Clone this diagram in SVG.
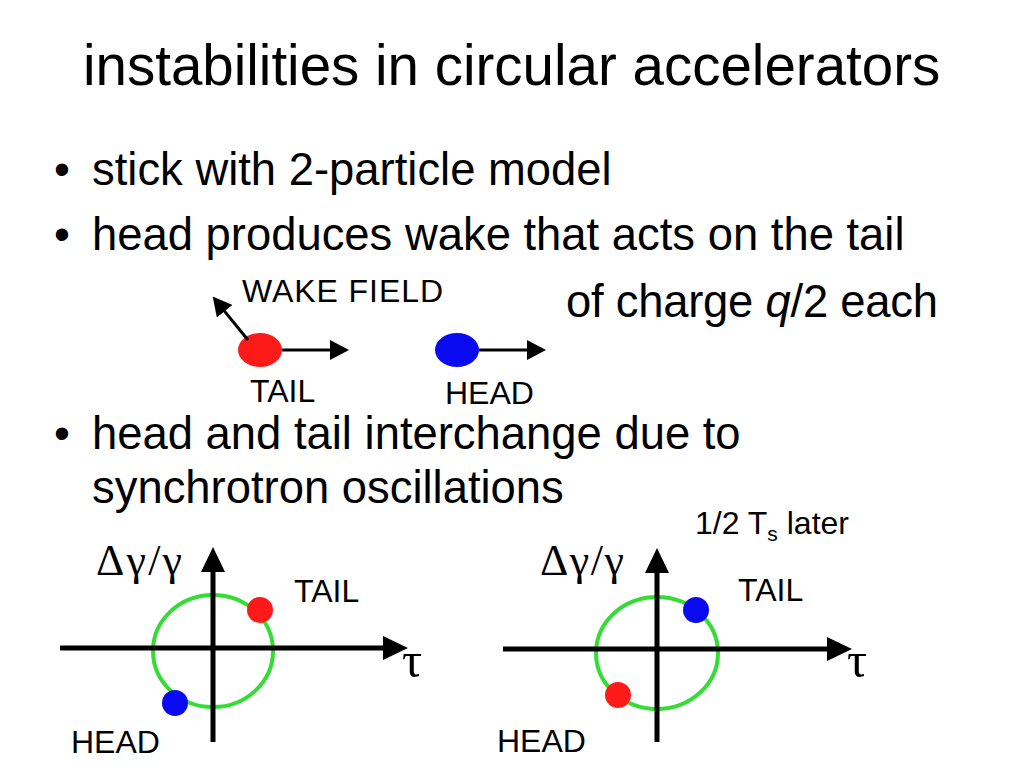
<svg xmlns="http://www.w3.org/2000/svg" width="1024" height="768" viewBox="0 0 1024 768">
  <style>
    .sans { font-family: "Liberation Sans", Arial, sans-serif; fill: #000; }
    .title { font-size: 56.5px; }
    .bullet { font-size: 45.4px; }
    .label { font-size: 32px; }
    .greek { font-family: "Liberation Serif", "Times New Roman", serif; font-size: 44px; fill: #000; }
    .tau { font-size: 50px; }
    .axis { stroke: #000; stroke-width: 5; fill: none; }
    .arrow { stroke: #000; stroke-width: 3; fill: none; }
    .orbit { stroke: #33dd33; stroke-width: 4; fill: none; }
    .red { fill: #ff1a1a; }
    .blue { fill: #0a0af0; }
  </style>
  <defs>
    <marker id="axisHead" viewBox="0 0 25 24" refX="10" refY="12" markerWidth="25" markerHeight="24" markerUnits="userSpaceOnUse" orient="auto">
      <path d="M0,0 L25,12 L0,24 z" fill="#000"/>
    </marker>
    <marker id="smallHead" viewBox="0 0 19 20" refX="8" refY="10" markerWidth="19" markerHeight="20" markerUnits="userSpaceOnUse" orient="auto">
      <path d="M0,0 L19,10 L0,20 z" fill="#000"/>
    </marker>
  </defs>
  <rect width="1024" height="768" fill="#fff"/>

  <g id="title">
    <text class="sans title" x="83" y="85">instabilities in circular accelerators</text>
  </g>

  <g id="bullets">
    <text class="sans bullet" x="54" y="185">•</text>
    <text class="sans bullet" x="92" y="185">stick with 2-particle model</text>
    <text class="sans bullet" x="54" y="250">•</text>
    <text class="sans bullet" x="92" y="250">head produces wake that acts on the tail</text>
    <text class="sans bullet" x="566" y="317" textLength="372">of charge <tspan font-style="italic">q</tspan>/2 each</text>
    <text class="sans bullet" x="54" y="449">•</text>
    <text class="sans bullet" x="92" y="449">head and tail interchange due to</text>
    <text class="sans bullet" x="92" y="503">synchrotron oscillations</text>
  </g>

  <g id="wake-field-label">
    <text class="sans label" x="242" y="302" textLength="201">WAKE FIELD</text>
  </g>
  <g id="tail-particle">
    <ellipse class="red" cx="260" cy="350" rx="22" ry="17"/>
    <text class="sans label" x="250" y="402">TAIL</text>
  </g>
  <g id="head-particle">
    <ellipse class="blue" cx="457" cy="350" rx="22" ry="17"/>
    <text class="sans label" x="445" y="404">HEAD</text>
  </g>

  <g id="phase-space-left">
    <ellipse class="orbit" cx="213" cy="651" rx="60" ry="56"/>
    <circle class="red" cx="260" cy="610" r="13"/>
    <circle class="blue" cx="175" cy="703" r="13"/>
    <text class="greek" x="96" y="575" textLength="86">Δγ/γ</text>
    <text class="greek tau" x="402" y="677">τ</text>
    <text class="sans label" x="294" y="602">TAIL</text>
    <text class="sans label" x="71" y="753">HEAD</text>
  </g>

  <g id="phase-space-right">
    <ellipse class="orbit" cx="657" cy="653" rx="61" ry="56"/>
    <circle class="blue" cx="696" cy="610" r="13"/>
    <circle class="red" cx="618" cy="695" r="13"/>
    <text class="greek" x="540" y="575" textLength="84">Δγ/γ</text>
    <text class="greek tau" x="847" y="677">τ</text>
    <text class="sans label" x="738" y="601">TAIL</text>
    <text class="sans label" x="497" y="752">HEAD</text>
    <text class="sans label" x="695" y="534">1/2 T<tspan font-size="21" dy="7">s</tspan><tspan dy="-7"> later</tspan></text>
  </g>

  <g id="connectors">
    <line class="arrow" x1="282" y1="350" x2="338" y2="350" marker-end="url(#smallHead)"/>
    <line class="arrow" x1="479" y1="350" x2="535" y2="350" marker-end="url(#smallHead)"/>
    <line class="arrow" x1="248" y1="340" x2="219.6" y2="305.1" marker-end="url(#smallHead)"/>
    <line class="axis" x1="60" y1="648" x2="393" y2="648" marker-end="url(#axisHead)"/>
    <line class="axis" x1="213" y1="742" x2="213" y2="562" marker-end="url(#axisHead)"/>
    <line class="axis" x1="503" y1="649" x2="837" y2="649" marker-end="url(#axisHead)"/>
    <line class="axis" x1="657" y1="742" x2="657" y2="563" marker-end="url(#axisHead)"/>
  </g>
</svg>
